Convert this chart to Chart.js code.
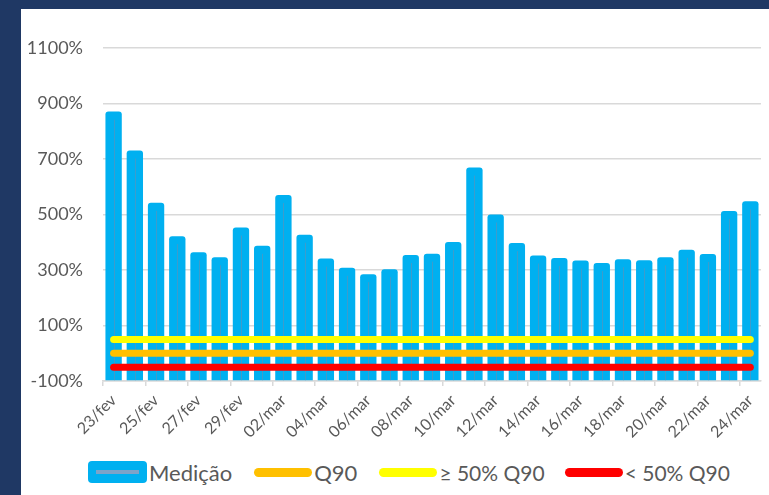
<!DOCTYPE html>
<html>
<head>
<meta charset="utf-8">
<script src="https://cdn.jsdelivr.net/npm/chart.js@4/dist/chart.umd.min.js"></script>
<style>
  html, body { margin: 0; padding: 0; }
  body { width: 769px; height: 495px; background: #1f3864; position: relative; overflow: hidden; font-family: Lato, "Open Sans", sans-serif; }
  #panel { position: absolute; left: 21px; top: 9px; width: 748px; height: 486px; background: #ffffff; }
  #wrap { position: absolute; left: 0; top: 0; width: 748px; height: 440px; }
  #legend { position: absolute; left: 67px; top: 450px; height: 26px; display: flex; align-items: center; color: #595959; font-size: 22px; white-space: nowrap; }
  .item { display: flex; align-items: center; margin-right: 22px; }
  .sw-bar { width: 59px; height: 22px; background: #00b0f0; border-radius: 4px; position: relative; margin-right: 2px; }
  .sw-bar::after { content: ""; position: absolute; left: 8px; right: 8px; top: 9px; height: 4px; background: #7da3c8; }
  .sw-line { width: 58px; height: 9px; border-radius: 5px; margin-right: 2px; }
  .narrow { font-size: 21px; }
</style>
</head>
<body>
<div id="panel">
  <div id="wrap"><canvas id="c"></canvas></div>
  <div id="legend">
    <div class="item"><span class="sw-bar"></span><span>Medição</span></div>
    <div class="item"><span class="sw-line" style="background:#ffc000"></span><span>Q90</span></div>
    <div class="item" style="margin-right:20px"><span class="sw-line" style="background:#ffff00"></span><span class="narrow">≥ 50% Q90</span></div>
    <div class="item" style="margin-right:0"><span class="sw-line" style="background:#ff0000"></span><span class="narrow">&lt; 50% Q90</span></div>
  </div>
</div>
<script>
const categories = ['23/fev','24/fev','25/fev','26/fev','27/fev','28/fev','29/fev','01/mar','02/mar','03/mar','04/mar','05/mar','06/mar','07/mar','08/mar','09/mar','10/mar','11/mar','12/mar','13/mar','14/mar','15/mar','16/mar','17/mar','18/mar','19/mar','20/mar','21/mar','22/mar','23/mar','24/mar'];
const medicao = [871, 731, 542, 422, 364, 346, 453, 387, 570, 427, 341, 308, 285, 303, 354, 359, 401, 669, 500, 397, 352, 343, 334, 325, 339, 335, 346, 373, 358, 513, 548];
const q90 =      [0,0,0,0,0,0,0,0,0,0,0,0,0,0,0,0,0,0,0,0,0,0,0,0,0,0,0,0,0,0,0];
const q90_50up = [50,50,50,50,50,50,50,50,50,50,50,50,50,50,50,50,50,50,50,50,50,50,50,50,50,50,50,50,50,50,50];
const q90_50dn = [-50,-50,-50,-50,-50,-50,-50,-50,-50,-50,-50,-50,-50,-50,-50,-50,-50,-50,-50,-50,-50,-50,-50,-50,-50,-50,-50,-50,-50,-50,-50];
const yTicks = [-100, 100, 300, 500, 700, 900, 1100];

const barCenterLine = {
  id: 'barCenterLine',
  afterDatasetDraw(chart, args) {
    if (args.index !== 0) return;
    const ctx = chart.ctx;
    ctx.save();
    ctx.strokeStyle = 'rgba(110,140,175,0.55)';
    ctx.lineWidth = 1;
    args.meta.data.forEach(el => {
      const x = Math.round(el.x) + 0.5;
      ctx.beginPath();
      ctx.moveTo(x, el.y + 8);
      ctx.lineTo(x, el.base);
      ctx.stroke();
    });
    ctx.restore();
  }
};

const lineDs = (label, data, color) => ({
  type: 'line', label, data, borderColor: color, backgroundColor: color,
  borderWidth: 7, borderCapStyle: 'round', pointRadius: 0, pointHoverRadius: 0, fill: false, order: 0
});

new Chart(document.getElementById('c'), {
  type: 'bar',
  data: {
    labels: categories,
    datasets: [
      { label: 'Medição', data: medicao, base: -100, backgroundColor: '#00b0f0', borderRadius: 3, borderSkipped: 'start',
        barPercentage: 0.77, categoryPercentage: 1.0, order: 1 },
      lineDs('< 50% Q90', q90_50dn, '#ff0000'),
      lineDs('Q90', q90, '#ffc000'),
      lineDs('≥ 50% Q90', q90_50up, '#ffff00')
    ]
  },
  options: {
    responsive: true,
    maintainAspectRatio: false,
    animation: false,
    layout: { padding: { top: 39, right: 5, left: 0, bottom: 0 } },
    plugins: { legend: { display: false }, tooltip: { enabled: false } },
    scales: {
      y: {
        min: -100, max: 1100,
        afterFit: s => { s.width = 82; },
        afterBuildTicks: s => { s.ticks = yTicks.map(v => ({ value: v })); },
        border: { display: false },
        grid: { color: '#d9d9d9', lineWidth: 1.5, drawTicks: false },
        ticks: { padding: 20, color: '#595959', font: { family: 'Lato', size: 18 }, callback: v => v + '%' }
      },
      x: {
        afterFit: s => { s.height = 68; },
        border: { display: true, color: '#d9d9d9', width: 1.5 },
        grid: { offset: true, drawOnChartArea: false, tickLength: 5, lineWidth: 1.5,
                color: c => (c.index % 2 === 0 ? '#d9d9d9' : 'rgba(0,0,0,0)') },
        ticks: { autoSkip: false, minRotation: 45, maxRotation: 45, padding: 5, color: '#595959',
                 font: { family: 'Lato', size: 16 },
                 callback: (v, i) => (i % 2 === 0 ? categories[i] : '') }
      }
    }
  },
  plugins: [barCenterLine]
});
</script>
</body>
</html>
